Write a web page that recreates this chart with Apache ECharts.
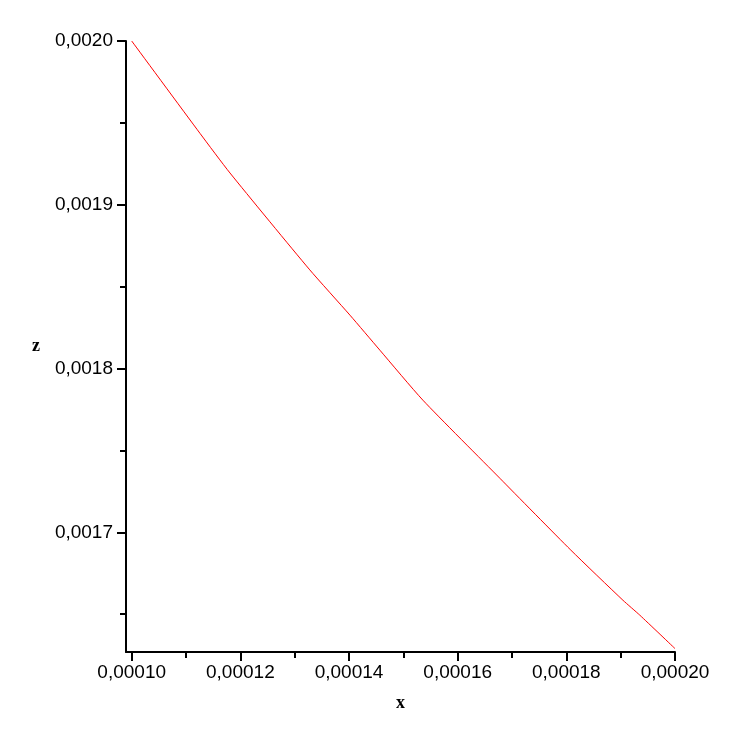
<!DOCTYPE html>
<html>
<head>
<meta charset="utf-8">
<script src="https://cdn.jsdelivr.net/npm/echarts@6/dist/echarts.min.js"></script>
<style>html,body{margin:0;padding:0;background:#fff}#c{width:729px;height:747px}</style>
</head>
<body>
<div id="c"></div>
<script>
// Data
const xValues = [0.00010, 0.00011257, 0.00011809, 0.00013266, 0.00014017, 0.00014568, 0.00015359, 0.00016776, 0.00018083, 0.00019042, 0.00019352, 0.00020];
const zValues = [0.0020, 0.0019436, 0.0019194, 0.0018607, 0.0018326, 0.0018112, 0.0017807, 0.0017330, 0.0016891, 0.0016585, 0.0016494, 0.0016290];
const xMajorTicks = [0.00010, 0.00012, 0.00014, 0.00016, 0.00018, 0.00020];
const xMinorTicks = [0.00011, 0.00013, 0.00015, 0.00017, 0.00019];
const zMajorTicks = [0.0017, 0.0018, 0.0019, 0.0020];
const zMinorTicks = [0.00165, 0.00175, 0.00185, 0.00195];
const xRange = [0.00009895, 0.00020];
const zRange = [0.0016269, 0.0020];

const chart = echarts.init(document.getElementById('c'), null, {renderer: 'canvas'});
const labelFont = {fontFamily: 'Liberation Sans, Arial, sans-serif', fontSize: 19, color: '#000'};
const axisBase = (type, minor, range, fmt) => ({
  type: 'value',
  min: range[0], max: range[1],
  splitLine: {show: false},
  axisLine: {show: !minor, onZero: false, lineStyle: {color: '#000', width: 2}},
  axisTick: {show: true, inside: false, length: minor ? 6 : 9,
    customValues: minor ? (type === 'x' ? xMinorTicks : zMinorTicks) : (type === 'x' ? xMajorTicks : zMajorTicks),
    lineStyle: {color: '#000', width: 2}},
  axisLabel: minor ? {show: false} : Object.assign({
    show: true,
    customValues: type === 'x' ? xMajorTicks : zMajorTicks,
    margin: type === 'x' ? 11 : 13,
    formatter: fmt
  }, labelFont)
});
const fx = v => v.toFixed(5).replace('.', ',');
const fz = v => v.toFixed(4).replace('.', ',');

chart.setOption({
  animation: false,
  backgroundColor: '#fff',
  grid: {left: 126, right: 54, top: 41, bottom: 95, containLabel: false},
  xAxis: [
    Object.assign(axisBase('x', false, xRange, fx), {position: 'bottom'}),
    Object.assign(axisBase('x', true, xRange, fx), {position: 'bottom'})
  ],
  yAxis: [
    Object.assign(axisBase('z', false, zRange, fz), {position: 'left'}),
    Object.assign(axisBase('z', true, zRange, fz), {position: 'left'})
  ],
  graphic: [
    {type: 'text', left: 396, top: 694, style: {text: 'x', font: 'bold 18px "Liberation Serif", serif', fill: '#000'}},
    {type: 'text', left: 32, top: 337, style: {text: 'z', font: 'bold 18px "Liberation Serif", serif', fill: '#000'}}
  ],
  series: [{
    type: 'line',
    xAxisIndex: 0, yAxisIndex: 0,
    data: xValues.map((x, i) => [x, zValues[i]]),
    showSymbol: false,
    smooth: 0.2,
    lineStyle: {color: '#ff0000', width: 1},
    silent: true
  }]
});
</script>
</body>
</html>
